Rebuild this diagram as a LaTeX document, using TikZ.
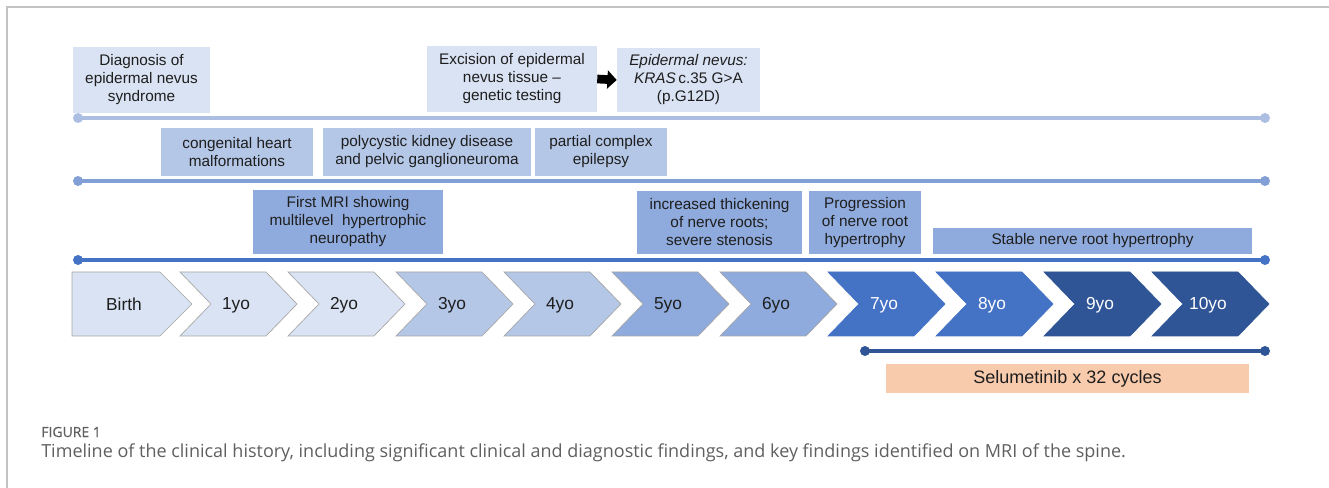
\documentclass[tikz,border=0pt]{standalone}
\usepackage{fontspec}
\setmainfont{Liberation Sans}
\newfontfamily\capfont{Open Sans}
\usetikzlibrary{arrows.meta}
\definecolor{txt}{RGB}{30,30,30}
\definecolor{cA}{RGB}{218,227,243}
\definecolor{cB}{RGB}{180,199,231}
\definecolor{cC}{RGB}{143,170,220}
\definecolor{cD}{RGB}{68,114,196}
\definecolor{cE}{RGB}{47,85,151}
\definecolor{lnA}{RGB}{172,191,227}
\definecolor{lnB}{RGB}{130,160,214}
\definecolor{peach}{RGB}{248,203,173}
\definecolor{frame}{RGB}{195,195,195}
\definecolor{captxt}{RGB}{95,95,95}
\definecolor{chevline}{RGB}{165,165,165}
\tikzset{
  box/.style={inner sep=0pt, draw=none, align=center, text=txt,
    font=\fontsize{11.5}{13.5}\selectfont},
  boxA/.style={box, fill=cA},
  boxB/.style={box, fill=cB},
  boxC/.style={box, fill=cC},
  boxS/.style={box, fill=peach, font=\fontsize{13.5}{15}\selectfont},
  tline/.style={line width=2.5pt, line cap=round},
  chevtext/.style={inner sep=0pt, font=\fontsize{13}{15}\selectfont},
}
% #1 style, #2 name, #3 x1, #4 y1, #5 x2, #6 y2, #7 text
\newcommand\rectnode[7]{%
  \node[#1, minimum width={(#5-#3)*0.75pt}, minimum height={(#6-#4)*0.75pt}]
    (#2) at ({(#3+#5)/2},{(#4+#6)/2}) {#7};}
\begin{document}
\begin{tikzpicture}[x=0.75pt,y=-0.75pt]
\useasboundingbox (0,0) rectangle (1329,488);
% frame
\draw[frame, line width=1.1pt] (7,488) -- (7,7) -- (1329,7);

% row 1
\rectnode{boxA}{diag}{73}{47}{210}{113}{Diagnosis of\\epidermal nevus\\syndrome}
\rectnode{boxA}{exc}{427}{46}{597}{112}{Excision of epidermal\\nevus tissue --\\genetic testing}
\rectnode{boxA}{epi}{617}{48}{760}{112}{\textit{Epidermal nevus:}\\\textit{KRAS}\,c.35 G>A\\(p.G12D)}
\draw[line width=6.5pt, -{Triangle[length=7pt, width=13.5pt]}] (exc.east) -- (epi.west);

\coordinate (l1a) at (78,118);
\coordinate (l1b) at (1265,118);
\draw[tline, lnA] (l1a) -- (l1b);
\fill[lnA] (l1a) circle[radius=5] (l1b) circle[radius=5];

% row 2
\rectnode{boxB}{heart}{161}{128}{313}{176}{congenital heart\\malformations}
\rectnode{boxB}{kidney}{323}{128}{531}{176}{polycystic kidney disease\\and pelvic ganglioneuroma}
\rectnode{boxB}{epil}{535}{128}{667}{176}{partial complex\\epilepsy}

\coordinate (l2a) at (78,181);
\coordinate (l2b) at (1265,181);
\draw[tline, lnB] (l2a) -- (l2b);
\fill[lnB] (l2a) circle[radius=5] (l2b) circle[radius=5];

% row 3
\rectnode{boxC}{mri}{253}{190}{443}{254}{First MRI showing\\multilevel\ \ hypertrophic\\neuropathy}
\rectnode{boxC}{thick}{637}{191}{802}{254}{increased thickening\\of nerve roots;\\severe stenosis}
\rectnode{boxC}{prog}{809}{191}{921}{254}{Progression\\of nerve root\\hypertrophy}
\rectnode{boxC}{stable}{933}{228}{1252}{254}{Stable nerve root hypertrophy}

\coordinate (l3a) at (78,260);
\coordinate (l3b) at (1265,260);
\draw[tline, cD] (l3a) -- (l3b);
\fill[cD] (l3a) circle[radius=5] (l3b) circle[radius=5];

% chevrons
\path[fill=cA, draw=chevline, line width=0.5pt] (72,272) -- (160,272) -- (192,304) -- (160,336) -- (72,336) -- cycle;
\node[chevtext, text=txt] (birth) at (124,304) {Birth};
\foreach \i/\t/\c/\d/\tc in {1/1yo/cA/chevline/txt, 2/2yo/cA/chevline/txt, 3/3yo/cB/chevline/txt, 4/4yo/cB/chevline/txt, 5/5yo/cC/chevline/txt, 6/6yo/cC/chevline/txt, 7/7yo/cD/cD/white, 8/8yo/cD/cD/white, 9/9yo/cE/cE/white, 10/10yo/cE/cE/white} {
  \pgfmathsetmacro\L{72+108*\i}
  \path[fill=\c, draw=\d, line width=0.5pt] (\L,272) -- ++(86,0) -- ++(31,32) -- ++(-31,32) -- ++(-86,0) -- ++(31,-32) -- cycle;
  \node[chevtext, text=\tc] (y\i) at (\L+56,305) {\t};
}

% selumetinib
\coordinate (s1) at (865,351);
\coordinate (s2) at (1265,351);
\draw[tline, cE] (s1) -- (s2);
\fill[cE] (s1) circle[radius=5] (s2) circle[radius=5];
\rectnode{boxS}{selu}{886}{364}{1249}{393}{Selumetinib x 32 cycles}

% caption
\node[anchor=base west, inner sep=0pt, text=captxt, font=\capfont\addfontfeature{FakeBold=0.6}\fontsize{10.5}{12}\selectfont] (fig) at (41,437) {FIGURE 1};
\node[anchor=base west, inner sep=0pt, text=captxt, font=\capfont\fontsize{13.5}{16}\selectfont] (cap) at (41,458) {Timeline of the clinical history, including significant clinical and diagnostic findings, and key findings identified on MRI of the spine.};
\end{tikzpicture}
\end{document}
